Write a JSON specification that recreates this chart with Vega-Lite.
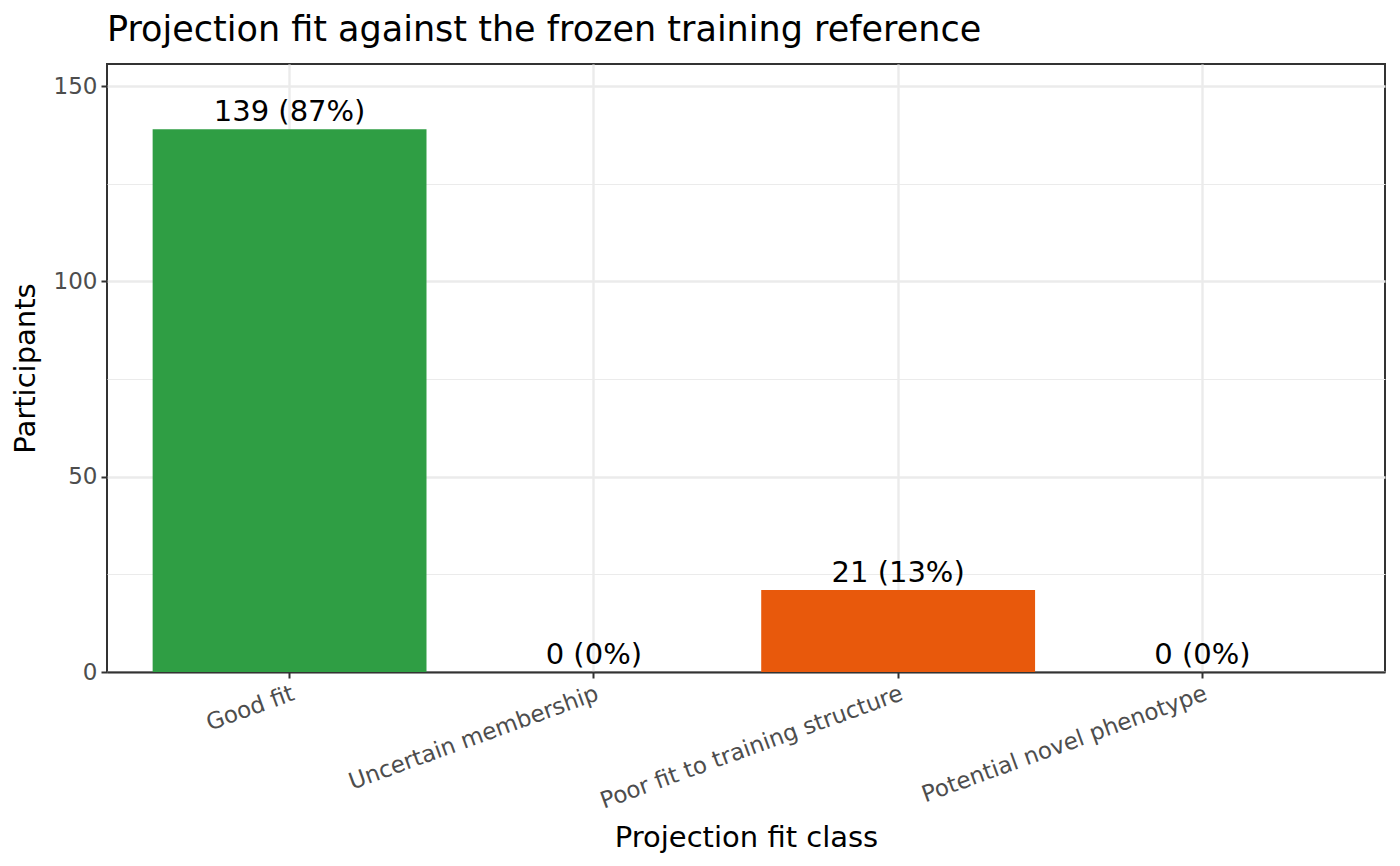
{
  "$schema": "https://vega.github.io/schema/vega-lite/v6.json",
  "width": 1278,
  "height": 608,
  "autosize": {"type": "none"},
  "padding": {"left": 107, "top": 64, "right": 15, "bottom": 194},
  "title": {
    "text": "Projection fit against the frozen training reference",
    "anchor": "start",
    "frame": "group",
    "fontSize": 35,
    "fontWeight": "normal",
    "color": "#000000",
    "baseline": "alphabetic",
    "offset": -12
  },
  "data": {
    "values": [
      {"fit_class": "Good fit", "n": 139, "label": "139 (87%)"},
      {"fit_class": "Uncertain membership", "n": 0, "label": "0 (0%)"},
      {"fit_class": "Poor fit to training structure", "n": 21, "label": "21 (13%)"},
      {"fit_class": "Potential novel phenotype", "n": 0, "label": "0 (0%)"}
    ]
  },
  "encoding": {
    "x": {
      "field": "fit_class",
      "type": "nominal",
      "sort": null,
      "scale": {"paddingInner": 0.1, "paddingOuter": 0.15},
      "axis": {
        "title": "Projection fit class",
        "bandPosition": 0.5,
        "grid": true,
        "gridColor": "#EBEBEB",
        "gridWidth": 2.4,
        "domain": true,
        "domainColor": "#333333",
        "domainWidth": 2,
        "ticks": true,
        "tickSize": 6,
        "tickWidth": 2,
        "tickColor": "#333333",
        "labelAngle": -20,
        "labelAlign": "right",
        "labelBaseline": "top",
        "labelFontSize": 23,
        "labelColor": "#4D4D4D",
        "labelPadding": 4,
        "labelLimit": 1000,
        "titleFontSize": 29,
        "titleFontWeight": "normal",
        "titleColor": "#000000",
        "titlePadding": 10
      }
    }
  },
  "layer": [
    {
      "mark": {"type": "bar"},
      "encoding": {
        "y": {
          "field": "n",
          "type": "quantitative",
          "scale": {"domain": [0, 155.68], "nice": false},
          "axis": {
            "title": "Participants",
            "values": [0, 50, 100, 150],
            "grid": true,
            "gridColor": "#EBEBEB",
            "gridWidth": 2.4,
            "domain": false,
            "tickSize": 6,
            "tickWidth": 2,
            "tickColor": "#333333",
            "labelFontSize": 23,
            "labelColor": "#4D4D4D",
            "labelPadding": 4,
            "titleFontSize": 29,
            "titleFontWeight": "normal",
            "titleColor": "#000000",
            "titlePadding": 13
          }
        },
        "color": {
          "field": "fit_class",
          "type": "nominal",
          "scale": {
            "domain": ["Good fit", "Uncertain membership", "Poor fit to training structure", "Potential novel phenotype"],
            "range": ["#2F9E44", "#F59F00", "#E8590C", "#7048E8"]
          },
          "legend": null
        }
      }
    },
    {
      "mark": {"type": "text", "baseline": "alphabetic", "dy": -8, "fontSize": 29, "color": "#000000"},
      "encoding": {
        "y": {
          "field": "n",
          "type": "quantitative",
          "axis": {
            "orient": "left",
            "values": [25, 75, 125],
            "grid": true,
            "gridColor": "#EBEBEB",
            "gridWidth": 1.2,
            "labels": false,
            "ticks": false,
            "domain": false,
            "title": null
          }
        },
        "text": {"field": "label"}
      }
    }
  ],
  "resolve": {"axis": {"y": "independent"}},
  "config": {
    "font": "DejaVu Sans",
    "view": {"stroke": "#333333", "strokeWidth": 2},
    "background": "#FFFFFF"
  }
}
